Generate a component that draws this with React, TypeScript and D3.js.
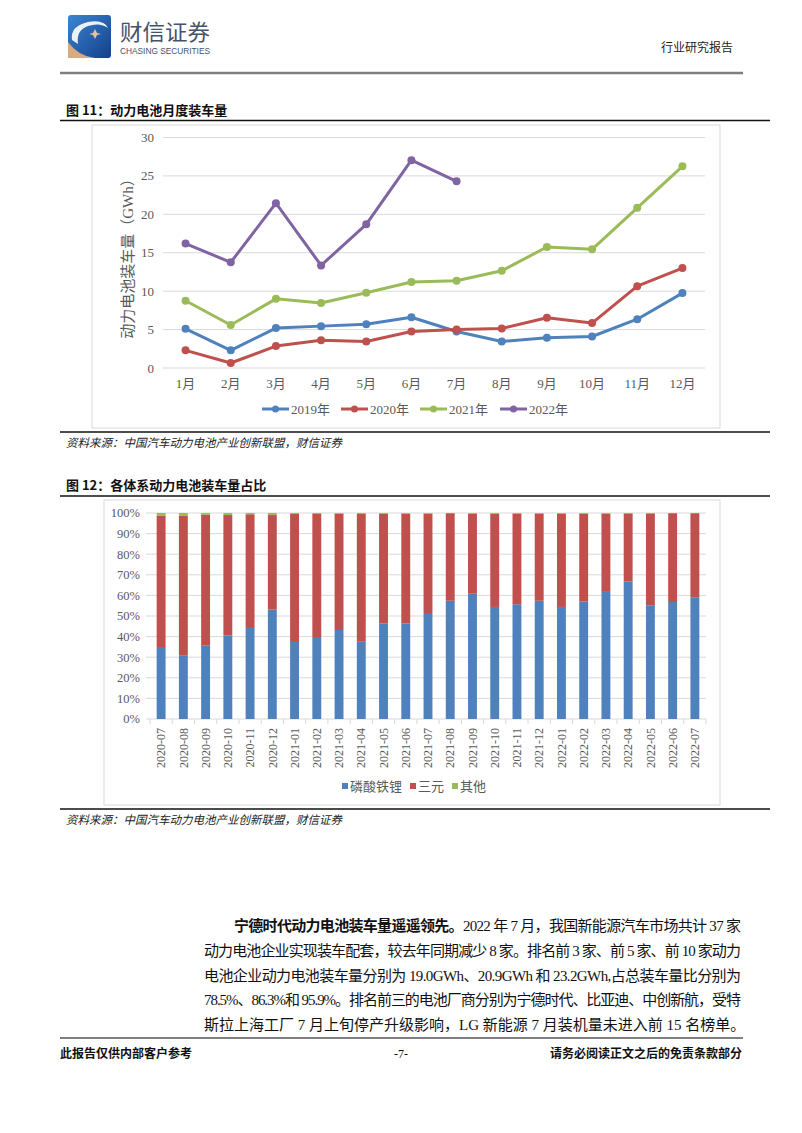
import React from 'react';
import * as d3 from 'd3';

const months = ['1月','2月','3月','4月','5月','6月','7月','8月','9月','10月','11月','12月'];
const s2019 = [5.1,2.3,5.2,5.45,5.7,6.6,4.75,3.45,3.95,4.1,6.35,9.75];
const s2020 = [2.3,0.65,2.85,3.6,3.45,4.75,5.0,5.15,6.55,5.85,10.65,13.0];
const s2021 = [8.75,5.6,9.0,8.45,9.8,11.2,11.35,12.65,15.75,15.45,20.85,26.25];
const s2022 = [16.2,13.75,21.45,13.35,18.7,27.05,24.3];
const lineNames = ['2019年','2020年','2021年','2022年'];
const lineColors = ['#4F81BD','#C0504D','#9BBB59','#8064A2'];
const yTicks1 = [0,5,10,15,20,25,30];

const periods = ['2020-07','2020-08','2020-09','2020-10','2020-11','2020-12','2021-01','2021-02','2021-03','2021-04','2021-05','2021-06','2021-07','2021-08','2021-09','2021-10','2021-11','2021-12','2022-01','2022-02','2022-03','2022-04','2022-05','2022-06','2022-07'];
const lfp = [34.5,30.7,35.6,40.6,44.2,53.1,37.4,39.8,43.2,37.5,46.3,46.3,51.0,57.4,60.8,54.4,55.7,57.4,54.4,57.0,61.7,66.7,55.2,56.8,59.1];
const other = [1.2,1.2,0.9,1.0,0.6,1.0,0.5,0.5,0.4,0.5,0.4,0.4,0.4,0.1,0.3,0.3,0.3,0.3,0.4,0.3,0.3,0.2,0.2,0.1,0.1];
const ternary = lfp.map((v, i) => 100 - v - other[i]);
const barNames = ['磷酸铁锂','三元','其他'];
const barColors = ['#4F81BD','#C0504D','#9BBB59'];
const yTicks2 = [0,10,20,30,40,50,60,70,80,90,100];

const serif = '"Liberation Serif", "Times New Roman", "Noto Sans CJK SC", serif';
const cjk = '"Noto Sans CJK SC", sans-serif';
const body = '"Liberation Serif", "Noto Sans CJK SC", serif';

function LineChart() {
  const x = d3.scaleBand<string>().domain(months).range([163, 705]);
  const y = d3.scaleLinear().domain([0, 30]).range([368, 137.5]);
  const cx = (m: string) => (x(m) as number) + x.bandwidth() / 2;
  const series = [s2019, s2020, s2021, s2022];
  const line = d3.line<number>().x((_, i) => cx(months[i])).y(d => y(d));
  const legendX = [262, 341, 420, 500];
  return (
    <g>
      <rect x={92} y={125} width={628} height={303} fill="#fff" stroke="#D9D9D9" />
      {yTicks1.map(t => (
        <g key={t}>
          <line x1={163} x2={705} y1={y(t)} y2={y(t)} stroke="#D9D9D9" strokeWidth={1} />
          <text x={154} y={y(t)} dy="0.35em" textAnchor="end" fontFamily={serif} fontSize={13} fill="#595959">{t}</text>
        </g>
      ))}
      {months.map(m => (
        <text key={m} x={cx(m)} y={388} textAnchor="middle" fontFamily={serif} fontSize={13} fill="#595959">{m}</text>
      ))}
      <text transform={`translate(133,255) rotate(-90)`} textAnchor="middle" fontFamily={serif} fontSize={15} fill="#595959">动力电池装车量（GWh）</text>
      {series.map((s, k) => (
        <g key={k}>
          <path d={line(s) as string} fill="none" stroke={lineColors[k]} strokeWidth={3} strokeLinejoin="round" />
          {s.map((v, i) => (
            <circle key={i} cx={cx(months[i])} cy={y(v)} r={4} fill={lineColors[k]} />
          ))}
        </g>
      ))}
      {lineNames.map((n, k) => (
        <g key={n}>
          <line x1={legendX[k]} x2={legendX[k] + 27} y1={409} y2={409} stroke={lineColors[k]} strokeWidth={3} />
          <circle cx={legendX[k] + 13.5} cy={409} r={3.5} fill={lineColors[k]} />
          <text x={legendX[k] + 29} y={409} dy="0.35em" fontFamily={serif} fontSize={13} fill="#595959">{n}</text>
        </g>
      ))}
    </g>
  );
}

function BarChart() {
  const x = d3.scaleBand<string>().domain(periods).range([150, 706]).paddingInner(0.6).paddingOuter(0.3);
  const y = d3.scaleLinear().domain([0, 100]).range([719, 513]);
  const stackData = periods.map((p, i) => ({ p, a: lfp[i], b: ternary[i], c: other[i] }));
  const stack = d3.stack<any>().keys(['a', 'b', 'c'])(stackData);
  const band = d3.scaleBand<string>().domain(periods).range([150, 706]);
  const legendX = [342, 410, 452];
  return (
    <g>
      <rect x={104} y={500} width={616} height={305} fill="#fff" stroke="#D9D9D9" />
      {yTicks2.map(t => (
        <g key={t}>
          <line x1={146} x2={706} y1={y(t)} y2={y(t)} stroke="#D9D9D9" strokeWidth={1} />
          <text x={140} y={y(t)} dy="0.35em" textAnchor="end" fontFamily={serif} fontSize={12.5} fill="#595959">{t}%</text>
        </g>
      ))}
      {periods.concat(['end']).map((p, i) => {
        const xx = 150 + band.step() * i;
        return <line key={i} x1={xx} x2={xx} y1={719} y2={724} stroke="#D9D9D9" />;
      })}
      {stack.map((layer, k) => (
        <g key={k}>
          {layer.map((d, i) => (
            <rect key={i} x={x(periods[i])} width={x.bandwidth()} y={y(d[1])} height={Math.max(0, y(d[0]) - y(d[1]))} fill={barColors[k]} />
          ))}
        </g>
      ))}
      {periods.map(p => (
        <text key={p} transform={`translate(${(band(p) as number) + band.bandwidth() / 2},728) rotate(-90)`} dy="0.35em" textAnchor="end" fontFamily={serif} fontSize={12} fill="#595959">{p}</text>
      ))}
      {barNames.map((n, k) => (
        <g key={n}>
          <rect x={legendX[k]} y={783} width={6} height={6} fill={barColors[k]} />
          <text x={legendX[k] + 8} y={786} dy="0.35em" fontFamily={serif} fontSize={13} fill="#595959">{n}</text>
        </g>
      ))}
    </g>
  );
}

export default function App() {
  const para = [
    '动力电池企业实现装车配套，较去年同期减少 8 家。排名前 3 家、前 5 家、前 10 家动力',
    '电池企业动力电池装车量分别为 19.0GWh、20.9GWh 和 23.2GWh,占总装车量比分别为',
    '78.5%、86.3%和 95.9%。排名前三的电池厂商分别为宁德时代、比亚迪、中创新航，受特',
  ];
  return (
    <svg width={802} height={1133} style={{ position: 'absolute', left: 0, top: 0, background: '#fff' }}>
      <defs>
        <linearGradient id="lg" x1="0" y1="0" x2="1" y2="1">
          <stop offset="0" stopColor="#3a86d0" />
          <stop offset="1" stopColor="#143f8c" />
        </linearGradient>
      </defs>
      <rect width={802} height={1133} fill="#fff" />
      {/* header */}
      <rect x={68} y={15} width={43} height={43} rx={3} fill="url(#lg)" />
      <path d="M68,58 L68,42 Q78,56 95,58 Z" fill="#d8aa80" />
      <path d="M72,40 Q70,26 88,22 Q104,19 108,28 Q100,22 88,26 Q76,30 78,44 Z" fill="#ffffff" opacity={0.9} />
      <path d="M95,29 L97,33 L101,34 L97,35 L95,39 L93,35 L89,34 L93,33 Z" fill="#f0c090" />
      <text x={120} y={40} fontFamily={cjk} fontSize={22} fill="#45526a" textLength={90} lengthAdjust="spacingAndGlyphs">财信证券</text>
      <text x={120} y={54} fontFamily='"Liberation Sans", Arial, sans-serif' fontSize={9} fill="#45526a" textLength={90} lengthAdjust="spacingAndGlyphs">CHASING SECURITIES</text>
      <text x={733} y={52} textAnchor="end" fontFamily={cjk} fontSize={12} fill="#222">行业研究报告</text>
      <line x1={60} x2={743} y1={73} y2={73} stroke="#7f7f7f" strokeWidth={2.5} />

      {/* figure 11 */}
      <text x={66} y={115} fontFamily={cjk} fontWeight="bold" fontSize={13} fill="#111">图 11：动力电池月度装车量</text>
      <line x1={60} x2={770} y1={120.5} y2={120.5} stroke="#111" strokeWidth={1.5} />
      <LineChart />
      <line x1={60} x2={770} y1={432} y2={432} stroke="#111" strokeWidth={1.5} />
      <text x={66} y={447} fontFamily={cjk} fontStyle="italic" fontSize={11.5} fill="#222">资料来源：中国汽车动力电池产业创新联盟，财信证券</text>

      {/* figure 12 */}
      <text x={66} y={490} fontFamily={cjk} fontWeight="bold" fontSize={13} fill="#111">图 12：各体系动力电池装车量占比</text>
      <line x1={60} x2={770} y1={496} y2={496} stroke="#111" strokeWidth={1.5} />
      <BarChart />
      <line x1={60} x2={770} y1={809} y2={809} stroke="#111" strokeWidth={1.5} />
      <text x={66} y={824} fontFamily={cjk} fontStyle="italic" fontSize={11.5} fill="#222">资料来源：中国汽车动力电池产业创新联盟，财信证券</text>

      {/* paragraph */}
      <text x={234} y={931} fontFamily={body} fontSize={15} fill="#111" textLength={507} lengthAdjust="spacing">
        <tspan fontFamily={cjk} fontWeight="bold">宁德时代动力电池装车量遥遥领先。</tspan>
        <tspan>2022 年 7 月，我国新能源汽车市场共计 37 家</tspan>
      </text>
      {para.map((l, i) => (
        <text key={i} x={204} y={956 + i * 24.5} fontFamily={body} fontSize={15} fill="#111" textLength={537} lengthAdjust="spacing">{l}</text>
      ))}
      <text x={204} y={1029.5} fontFamily={body} fontSize={15} fill="#111">斯拉上海工厂 7 月上旬停产升级影响，LG 新能源 7 月装机量未进入前 15 名榜单。</text>

      {/* footer */}
      <line x1={60} x2={743} y1={1038} y2={1038} stroke="#7f7f7f" strokeWidth={2} />
      <text x={60} y={1058} fontFamily={cjk} fontWeight="bold" fontSize={12} fill="#111">此报告仅供内部客户参考</text>
      <text x={401} y={1058} textAnchor="middle" fontFamily={serif} fontSize={12} fill="#111">-7-</text>
      <text x={742} y={1058} textAnchor="end" fontFamily={cjk} fontWeight="bold" fontSize={12} fill="#111">请务必阅读正文之后的免责条款部分</text>
    </svg>
  );
}
